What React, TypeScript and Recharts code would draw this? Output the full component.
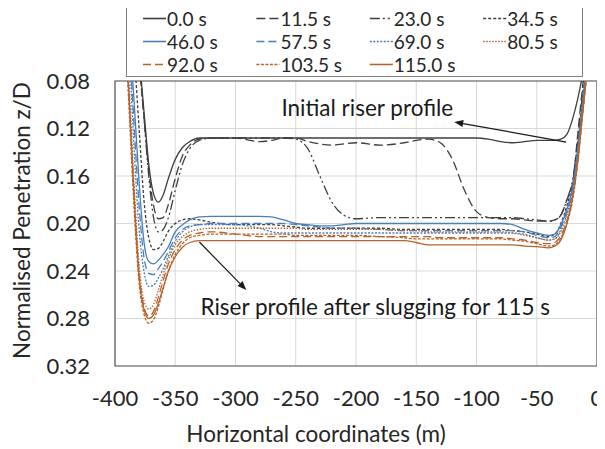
import React from 'react';
import {
  LineChart,
  Line,
  XAxis,
  YAxis,
  CartesianGrid,
  ReferenceLine,
  ReferenceDot,
  ReferenceArea,
  Label,
} from 'recharts';

// horizontal coordinate (m) shared by every profile
const xCoords = [
  -392, -388, -384, -380, -376,
  -372, -368, -364, -360, -356,
  -350, -344, -338, -330, -320,
  -300, -280, -270, -260, -250,
  -240, -230, -220, -210, -200,
  -180, -160, -150, -140, -130,
  -120, -110, -100, -90, -80,
  -70, -60, -50, -40, -35,
  -30, -25, -20, -16, -12,
  -8,
];

// normalised penetration z/D, one array per time step
const t00 = [
  0.0, 0.01, 0.03, 0.06, 0.105,
  0.15, 0.175, 0.182, 0.176, 0.163,
  0.146, 0.136, 0.131, 0.128, 0.128,
  0.128, 0.128, 0.128, 0.128, 0.128,
  0.128, 0.128, 0.128, 0.128, 0.128,
  0.128, 0.128, 0.128, 0.128, 0.128,
  0.128, 0.128, 0.128, 0.129, 0.131,
  0.132, 0.131, 0.130, 0.130, 0.130,
  0.129, 0.125, 0.111, 0.095, 0.075,
  0.05,
];
const t115 = [
  0.0, 0.01, 0.03, 0.065, 0.11,
  0.155, 0.185, 0.196, 0.195, 0.185,
  0.162, 0.143, 0.134, 0.129, 0.128,
  0.128, 0.131, 0.130, 0.128, 0.128,
  0.131, 0.133, 0.134, 0.133, 0.132,
  0.134, 0.132, 0.130, 0.129, 0.132,
  0.146, 0.172, 0.19, 0.195, 0.196,
  0.196, 0.197, 0.198, 0.198, 0.197,
  0.193, 0.18, 0.165, 0.125, 0.085,
  0.05,
];
const t230 = [
  0.0, 0.01, 0.03, 0.065, 0.11,
  0.16, 0.195, 0.207, 0.205, 0.196,
  0.172, 0.15, 0.137, 0.13, 0.128,
  0.128, 0.128, 0.128, 0.128, 0.129,
  0.137, 0.16, 0.182, 0.193, 0.196,
  0.195, 0.195, 0.195, 0.195, 0.195,
  0.195, 0.195, 0.195, 0.195, 0.195,
  0.195, 0.196, 0.197, 0.198, 0.197,
  0.193, 0.18, 0.162, 0.13, 0.09,
  0.05,
];
const t345 = [
  0.0, 0.02, 0.06, 0.12, 0.18,
  0.212, 0.222, 0.221, 0.215, 0.207,
  0.2, 0.197, 0.196, 0.197, 0.199,
  0.201, 0.201, 0.201, 0.202, 0.203,
  0.204, 0.204, 0.204, 0.204, 0.204,
  0.204, 0.205, 0.205, 0.205, 0.205,
  0.205, 0.205, 0.205, 0.205, 0.205,
  0.206, 0.207, 0.209, 0.211, 0.209,
  0.2, 0.185, 0.165, 0.135, 0.095,
  0.06,
];
const t460 = [
  0.0, 0.04, 0.10, 0.165, 0.215,
  0.232, 0.234, 0.231, 0.226, 0.22,
  0.207, 0.201, 0.197, 0.1945, 0.194,
  0.194, 0.194, 0.1945, 0.197, 0.2,
  0.201, 0.202, 0.202, 0.201, 0.2,
  0.2, 0.2, 0.2, 0.2, 0.2,
  0.2, 0.2, 0.2, 0.2, 0.2,
  0.201, 0.205, 0.208, 0.21, 0.209,
  0.201, 0.188, 0.168, 0.138, 0.098,
  0.06,
];
const t575 = [
  0.0, 0.05, 0.12, 0.185, 0.228,
  0.242, 0.243, 0.238, 0.232, 0.224,
  0.212, 0.205, 0.202, 0.201, 0.2,
  0.2, 0.2, 0.2, 0.2, 0.201,
  0.202, 0.203, 0.204, 0.204, 0.204,
  0.205, 0.206, 0.206, 0.206, 0.206,
  0.206, 0.206, 0.206, 0.206, 0.206,
  0.206, 0.207, 0.21, 0.212, 0.211,
  0.203, 0.19, 0.17, 0.14, 0.1,
  0.062,
];
const t690 = [
  0.0, 0.06, 0.14, 0.205, 0.24,
  0.253, 0.252, 0.246, 0.238, 0.228,
  0.215, 0.207, 0.203, 0.201, 0.201,
  0.201, 0.204, 0.207, 0.208, 0.208,
  0.208, 0.208, 0.208, 0.208, 0.208,
  0.208, 0.208, 0.208, 0.208, 0.208,
  0.208, 0.208, 0.208, 0.208, 0.208,
  0.208, 0.209, 0.212, 0.214, 0.213,
  0.205, 0.192, 0.172, 0.142, 0.102,
  0.064,
];
const t805 = [
  0.02, 0.09, 0.17, 0.235, 0.265,
  0.272, 0.268, 0.256, 0.243, 0.231,
  0.218, 0.211, 0.207, 0.205, 0.204,
  0.204, 0.204, 0.204, 0.204, 0.204,
  0.205, 0.205, 0.205, 0.205, 0.205,
  0.205, 0.206, 0.206, 0.207, 0.207,
  0.207, 0.207, 0.207, 0.207, 0.207,
  0.208, 0.21, 0.212, 0.214, 0.213,
  0.207, 0.195, 0.175, 0.145, 0.105,
  0.066,
];
const t920 = [
  0.02, 0.10, 0.18, 0.242, 0.27,
  0.278, 0.274, 0.262, 0.248, 0.235,
  0.222, 0.214, 0.21, 0.208, 0.207,
  0.209, 0.211, 0.211, 0.211, 0.211,
  0.211, 0.211, 0.211, 0.211, 0.211,
  0.211, 0.211, 0.211, 0.211, 0.212,
  0.212, 0.212, 0.212, 0.212, 0.212,
  0.213, 0.214, 0.216, 0.217, 0.216,
  0.21, 0.198, 0.177, 0.147, 0.107,
  0.068,
];
const t1035 = [
  0.03, 0.11, 0.19, 0.25, 0.276,
  0.284, 0.281, 0.27, 0.255, 0.241,
  0.226, 0.217, 0.212, 0.21, 0.209,
  0.209, 0.209, 0.209, 0.209, 0.21,
  0.21, 0.21, 0.21, 0.21, 0.21,
  0.211, 0.212, 0.213, 0.213, 0.213,
  0.213, 0.213, 0.213, 0.213, 0.213,
  0.214, 0.215, 0.217, 0.219, 0.218,
  0.212, 0.2, 0.179, 0.149, 0.109,
  0.07,
];
const t1150 = [
  0.02, 0.10, 0.18, 0.245, 0.272,
  0.28, 0.277, 0.267, 0.254, 0.241,
  0.228, 0.22, 0.216, 0.2145, 0.2145,
  0.2145, 0.2145, 0.2145, 0.2145, 0.2145,
  0.2145, 0.2145, 0.2145, 0.2145, 0.2145,
  0.2145, 0.2145, 0.216, 0.218, 0.218,
  0.218, 0.218, 0.218, 0.218, 0.218,
  0.218, 0.219, 0.2195, 0.2205, 0.219,
  0.214, 0.2, 0.176, 0.148, 0.108,
  0.07,
];

const xTicks = [-400, -350, -300, -250, -200, -150, -100, -50, 0];
const yTicks = [0.08, 0.12, 0.16, 0.2, 0.24, 0.28, 0.32];

const BLACK = '#3f3f3f';
const BLUE = '#4a7ebb';
const BROWN = '#b4642e';
const FONT = 'Lato, "Open Sans", sans-serif';
const TEXT = '#262626';

const series = [
  { key: 's0', name: '0.0 s', values: t00, color: BLACK, dash: undefined },
  { key: 's1', name: '11.5 s', values: t115, color: BLACK, dash: '9 4' },
  { key: 's2', name: '23.0 s', values: t230, color: BLACK, dash: '10 3 2 3 2 3' },
  { key: 's3', name: '34.5 s', values: t345, color: BLACK, dash: '3 2' },
  { key: 's4', name: '46.0 s', values: t460, color: BLUE, dash: undefined },
  { key: 's5', name: '57.5 s', values: t575, color: BLUE, dash: '8 4' },
  { key: 's6', name: '69.0 s', values: t690, color: BLUE, dash: '2 1.5' },
  { key: 's7', name: '80.5 s', values: t805, color: BROWN, dash: '1.5 1.5' },
  { key: 's8', name: '92.0 s', values: t920, color: BROWN, dash: '8 4' },
  { key: 's9', name: '103.5 s', values: t1035, color: BROWN, dash: '3 1.5' },
  { key: 's10', name: '115.0 s', values: t1150, color: BROWN, dash: undefined },
];

const rows = xCoords.map((x, i) => {
  const row: Record<string, number> = { x };
  series.forEach((s) => {
    row[s.key] = s.values[i];
  });
  return row;
});

const Arrow = (props: any) => {
  const { x1, y1, x2, y2 } = props;
  const ang = Math.atan2(y2 - y1, x2 - x1);
  const len = 9;
  const half = 3.5;
  const bx = x2 - len * Math.cos(ang);
  const by = y2 - len * Math.sin(ang);
  const px = -Math.sin(ang) * half;
  const py = Math.cos(ang) * half;
  return (
    <g>
      <line x1={x1} y1={y1} x2={bx} y2={by} stroke="#1a1a1a" strokeWidth={1.2} />
      <polygon points={`${x2},${y2} ${bx + px},${by + py} ${bx - px},${by - py}`} fill="#1a1a1a" />
    </g>
  );
};

const note = (text: string) => (props: any) => (
  <text
    x={props.cx}
    y={props.cy}
    textAnchor="middle"
    dominantBaseline="central"
    fontSize={22.5}
    fontFamily={FONT}
    fill="#1a1a1a"
  >
    {text}
  </text>
);

const LegendBox = () => (
  <svg
    width={457}
    height={75}
    style={{ position: 'absolute', left: 118, top: -6, overflow: 'visible' }}
  >
    <rect x={0.5} y={0.5} width={456} height={74} fill="#fff" stroke="#7f7f7f" />
    {series.map((s, i) => {
      const x0 = 17 + (i % 4) * 113.4;
      const y0 = 16.5 + Math.floor(i / 4) * 23;
      return (
        <g key={s.key}>
          <line x1={x0} x2={x0 + 23} y1={y0} y2={y0} stroke={s.color} strokeWidth={1.6} strokeDasharray={s.dash} />
          <text x={x0 + 24} y={y0} dominantBaseline="central" fontSize={19} fontFamily={FONT} fill={TEXT}>
            {s.name}
          </text>
        </g>
      );
    })}
  </svg>
);

export default function App() {
  return (
    <div style={{ position: 'relative', width: 597, height: 441 }}>
      <LineChart
        width={597}
        height={441}
        data={rows}
        margin={{ top: 73, right: 8, bottom: 53, left: 45 }}
      >
        <CartesianGrid stroke="#d9d9d9" />
        <XAxis
          dataKey="x"
          type="number"
          domain={[-400, 0]}
          ticks={xTicks}
          allowDataOverflow
          axisLine={false}
          tickLine={false}
          tickMargin={18}
          height={30}
          tick={{ fontSize: 22, fontFamily: FONT, fill: TEXT }}
        >
          <Label
            value="Horizontal  coordinates (m)"
            position="center"
            dx={-40}
            dy={53}
            style={{ fontSize: 22.5, fontFamily: FONT, fill: TEXT, whiteSpace: 'pre' }}
          />
        </XAxis>
        <YAxis
          type="number"
          reversed
          domain={[0.08, 0.32]}
          ticks={yTicks}
          allowDataOverflow
          axisLine={false}
          tickLine={false}
          tickMargin={19}
          width={62}
          tickFormatter={(v: number) => v.toFixed(2)}
          tick={{ fontSize: 22, fontFamily: FONT, fill: TEXT }}
        >
          <Label
            value="Normalised Penetration z/D"
            position="center"
            angle={-90}
            dx={-62}
            dy={-3}
            style={{ fontSize: 22.5, fontFamily: FONT, fill: TEXT }}
          />
        </YAxis>
        <ReferenceArea x1={-400} x2={0} y1={0.08} y2={0.32} fill="none" stroke="#595959" strokeWidth={1.2} />
        {series.map((s) => (
          <Line
            key={s.key}
            dataKey={s.key}
            name={s.name}
            type="monotone"
            stroke={s.color}
            strokeWidth={1.3}
            strokeDasharray={s.dash}
            dot={false}
            activeDot={false}
            isAnimationActive={false}
          />
        ))}
        <ReferenceLine segment={[{ x: -25.6, y: 0.1314 }, { x: -118.5, y: 0.1145 }]} shape={Arrow} />
        <ReferenceLine segment={[{ x: -330, y: 0.2156 }, { x: -291, y: 0.256 }]} shape={Arrow} />
        <ReferenceDot x={-190.6} y={0.1019} r={0} shape={note('Initial riser profile')} />
        <ReferenceDot x={-184} y={0.2703} r={0} shape={note('Riser profile after slugging for 115 s')} />
      </LineChart>
      <LegendBox />
    </div>
  );
}
